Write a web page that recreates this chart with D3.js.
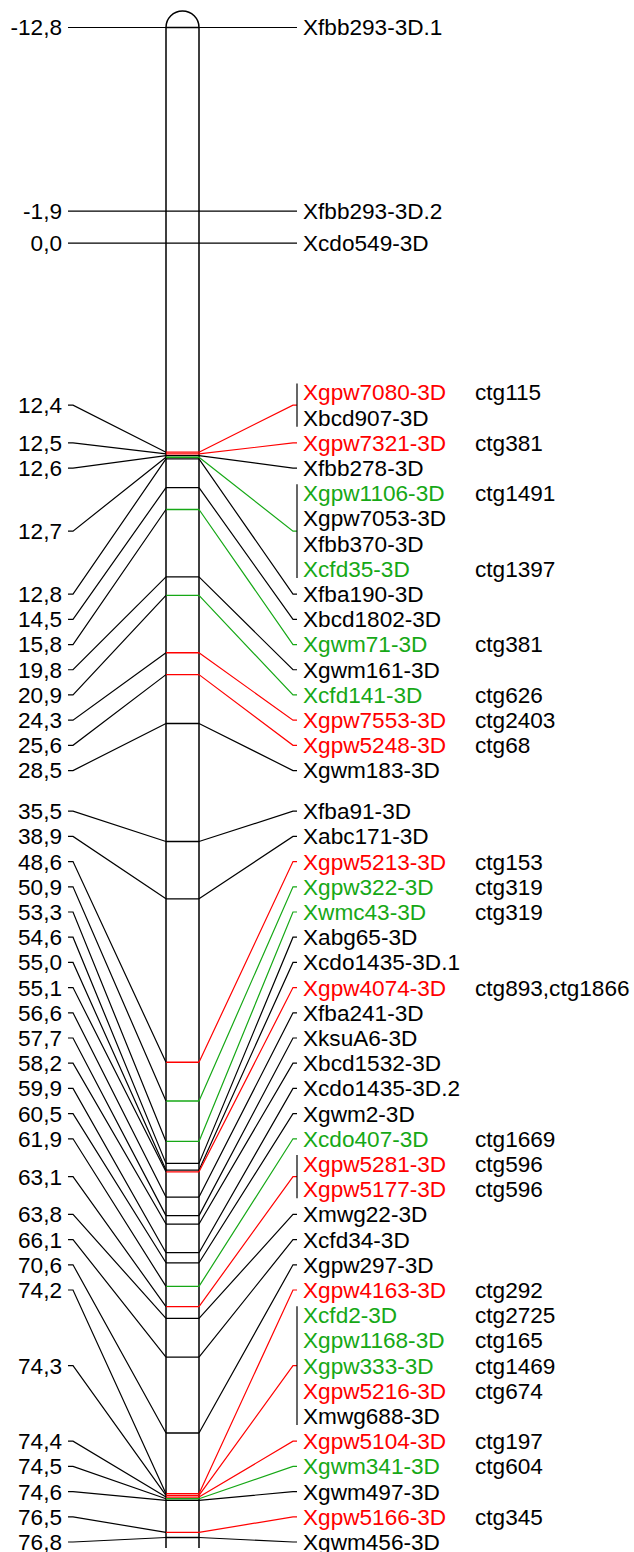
<!DOCTYPE html>
<html lang="en">
<head>
  <meta charset="utf-8">
  <title>Chromosome 3D map</title>
  <style>
    body { margin: 0; background: #fff; }
    text { font-family: "Liberation Sans", Arial, sans-serif; font-size: 22.6px; }
  </style>
</head>
<body>
  <script src="https://d3js.org/d3.v7.min.js"></script>
  <svg></svg>
  <script>

// Marker names, top to bottom
var markerNames = ["Xfbb293-3D.1","Xfbb293-3D.2","Xcdo549-3D","Xgpw7080-3D","Xbcd907-3D",
  "Xgpw7321-3D","Xfbb278-3D","Xgpw1106-3D","Xgpw7053-3D","Xfbb370-3D","Xcfd35-3D",
  "Xfba190-3D","Xbcd1802-3D","Xgwm71-3D","Xgwm161-3D","Xcfd141-3D","Xgpw7553-3D",
  "Xgpw5248-3D","Xgwm183-3D","Xfba91-3D","Xabc171-3D","Xgpw5213-3D","Xgpw322-3D",
  "Xwmc43-3D","Xabg65-3D","Xcdo1435-3D.1","Xgpw4074-3D","Xfba241-3D","XksuA6-3D",
  "Xbcd1532-3D","Xcdo1435-3D.2","Xgwm2-3D","Xcdo407-3D","Xgpw5281-3D","Xgpw5177-3D",
  "Xmwg22-3D","Xcfd34-3D","Xgpw297-3D","Xgpw4163-3D","Xcfd2-3D","Xgpw1168-3D",
  "Xgpw333-3D","Xgpw5216-3D","Xmwg688-3D","Xgpw5104-3D","Xgwm341-3D","Xgwm497-3D",
  "Xgpw5166-3D","Xgwm456-3D"];

// Map position (cM)
var markerPositions = [-12.8,-1.9,0.0,12.4,12.4,12.5,12.6,12.7,12.7,12.7,12.7,12.8,14.5,15.8,
  19.8,20.9,24.3,25.6,28.5,35.5,38.9,48.6,50.9,53.3,54.6,55.0,55.1,56.6,57.7,58.2,59.9,
  60.5,61.9,63.1,63.1,63.8,66.1,70.6,74.2,74.3,74.3,74.3,74.3,74.3,74.4,74.5,74.6,76.5,76.8];

// Marker class: k = plain, r = red, g = green
var markerClass = ["k","k","k","r","k","r","k","g","k","k","g","k","k","g","k","g","r",
  "r","k","k","k","r","g","g","k","k","r","k","k","k","k","k","g","r","r","k","k","k",
  "r","g","g","g","r","k","r","g","k","r","k"];

// Contig assignments
var markerContigs = ["","","","ctg115","","ctg381","","ctg1491","","","ctg1397","","",
  "ctg381","","ctg626","ctg2403","ctg68","","","","ctg153","ctg319","ctg319","","",
  "ctg893,ctg1866","","","","","","ctg1669","ctg596","ctg596","","","","ctg292",
  "ctg2725","ctg165","ctg1469","ctg674","","ctg197","ctg604","","ctg345",""];

var colors = {k: "#000000", r: "#ff0000", g: "#16a816"};

var width = 634, height = 1552;
var chrLeft = 166, chrRight = 199, chrBottom = 1548;
var rowH = 25.2;          // label spacing
var labelMax = 1542;      // lowest allowed label

var svg = d3.select("svg").attr("width", width).attr("height", height);

var y = d3.scaleLinear().domain([-12.8, 76.8]).range([27.5, 1537.5]);

var fmt = d3.formatLocale({decimal: ",", thousands: ".", grouping: [3], currency: ["", ""], minus: "-"}).format(".1f");

// group markers sharing one position
var markers = markerNames.map(function(n, i) {
  return {name: n, pos: markerPositions[i], cls: markerClass[i], ctg: markerContigs[i]};
});
var groups = [];
markers.forEach(function(m) {
  var g = groups[groups.length - 1];
  if (g && g.pos === m.pos) g.markers.push(m);
  else groups.push({pos: m.pos, markers: [m]});
});
groups.forEach(function(g) {
  g.want = y(g.pos);
  var c = g.markers.map(function(m) { return m.cls; }).filter(function(c) { return c !== "k"; });
  g.cls = c.length ? c[c.length - 1] : "k";
});

// label layout: clusters centred between first and last wanted position
function placeCluster(cl) {
  var off = 0;
  cl.forEach(function(g) { g.off = off + (g.markers.length - 1) * rowH / 2; off += g.markers.length * rowH; });
  var first = cl[0], last = cl[cl.length - 1];
  var mid = (first.want + last.want) / 2;
  var top = mid - (first.off + last.off) / 2;
  var bottom = top + off - rowH;
  if (bottom > labelMax) top -= bottom - labelMax;
  cl.top = top; cl.bottom = top + off - rowH;
}
var clusters = groups.map(function(g) { return [g]; });
clusters.forEach(placeCluster);
var merged = true;
while (merged) {
  merged = false;
  for (var i = 1; i < clusters.length; i++) {
    if (clusters[i].top < clusters[i - 1].bottom + rowH) {
      var cl = clusters[i - 1].concat(clusters[i]);
      placeCluster(cl);
      clusters.splice(i - 1, 2, cl);
      merged = true;
      break;
    }
  }
}
clusters.forEach(function(cl) {
  cl.forEach(function(g) {
    g.ly = cl.top + g.off;
    g.firstY = cl.top + g.off - (g.markers.length - 1) * rowH / 2;
  });
});

// chromosome outline
var r = (chrRight - chrLeft) / 2;
svg.append("path")
   .attr("d", "M" + chrLeft + "," + chrBottom + "V" + y(-12.8) +
        "A" + r + "," + r + " 0 0 1 " + chrRight + "," + y(-12.8) + "V" + chrBottom)
   .attr("fill", "none").attr("stroke", "#000").attr("stroke-width", 1.5);

// bands
svg.append("g").selectAll("line").data(groups).enter().append("line")
   .attr("x1", chrLeft).attr("x2", chrRight)
   .attr("y1", function(d) { return d.want; }).attr("y2", function(d) { return d.want; })
   .attr("stroke", function(d) { return colors[d.cls]; }).attr("stroke-width", 1.3);

// left connectors
svg.append("g").selectAll("polyline").data(groups).enter().append("polyline")
   .attr("points", function(d) { return [[68, d.ly], [73, d.ly], [chrLeft, d.want]].join(" "); })
   .attr("fill", "none").attr("stroke", "#000").attr("stroke-width", 1.2);

// right connectors
svg.append("g").selectAll("polyline").data(groups).enter().append("polyline")
   .attr("points", function(d) { return [[chrRight, d.want], [293, d.ly], [297, d.ly]].join(" "); })
   .attr("fill", "none").attr("stroke", function(d) { return colors[d.cls]; }).attr("stroke-width", 1.2);

// brackets for shared positions
svg.append("g").selectAll("line").data(groups.filter(function(g) { return g.markers.length > 1; }))
   .enter().append("line")
   .attr("x1", 297).attr("x2", 297)
   .attr("y1", function(d) { return d.firstY - 9; })
   .attr("y2", function(d) { return d.firstY + (d.markers.length - 1) * rowH + 9; })
   .attr("stroke", "#000").attr("stroke-width", 1.2);

// position labels
svg.append("g").selectAll("text").data(groups).enter().append("text")
   .attr("x", 62).attr("y", function(d) { return d.ly; }).attr("dy", "0.35em")
   .attr("text-anchor", "end")
   .text(function(d) { return fmt(d.pos); });

// marker labels
var rows = [];
groups.forEach(function(g) {
  g.markers.forEach(function(m, j) { rows.push({m: m, y: g.firstY + j * rowH}); });
});
var rg = svg.append("g").selectAll("g").data(rows).enter().append("g");
rg.append("text").attr("x", 303).attr("y", function(d) { return d.y; }).attr("dy", "0.35em")
  .attr("fill", function(d) { return colors[d.m.cls]; })
  .text(function(d) { return d.m.name; });
rg.append("text").attr("x", 475).attr("y", function(d) { return d.y; }).attr("dy", "0.35em")
  .text(function(d) { return d.m.ctg; });

  </script>
</body>
</html>
